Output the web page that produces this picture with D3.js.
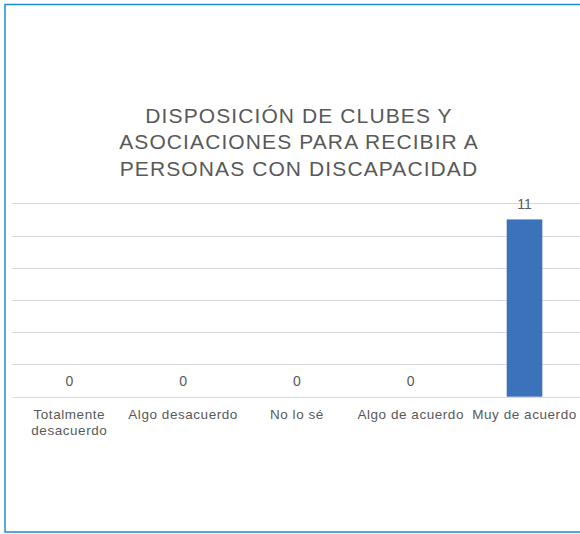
<!DOCTYPE html>
<html>
<head>
<meta charset="utf-8">
<script src="https://cdn.jsdelivr.net/npm/d3@7"></script>
<style>
  body { margin: 0; background: #fff; }
  text { font-family: "Liberation Sans", Arial, sans-serif; }
</style>
</head>
<body>
<svg id="chart" width="580" height="534"></svg>
<script>
// data
const categories = ['Totalmente desacuerdo', 'Algo desacuerdo', 'No lo sé', 'Algo de acuerdo', 'Muy de acuerdo']
const values = [0, 0, 0, 0, 11]
const yTicks = [0, 2, 4, 6, 8, 10, 12]
const titleLines = ['DISPOSICIÓN DE CLUBES Y', 'ASOCIACIONES PARA RECIBIR A', 'PERSONAS CON DISCAPACIDAD']

// layout
const PLOT = { left: 12.4, right: 581.4, top: 203.3, bottom: 396.7 }
const TEXT_COLOR = '#595959'
const GRID_COLOR = '#d9d9d9'
const BAR_COLOR = '#3b72b9'

const svg = d3.select('#chart')

// blue frame round the figure (right edge falls outside the picture)
svg.append('rect')
  .attr('x', 5).attr('y', 4.5)
  .attr('width', 620).attr('height', 527.5)
  .attr('fill', 'none')
  .attr('stroke', '#1f8ad2')
  .attr('stroke-width', 1.5)

const x = d3.scaleBand()
  .domain(categories)
  .range([PLOT.left, PLOT.right])
  .paddingInner(0.687)
  .paddingOuter(0.3435)

const y = d3.scaleLinear()
  .domain([0, d3.max(yTicks)])
  .range([PLOT.bottom, PLOT.top])

// title
svg.append('g')
  .attr('fill', TEXT_COLOR)
  .attr('font-size', 21)
  .attr('letter-spacing', '1.1px')
  .attr('text-anchor', 'middle')
  .selectAll('text')
  .data(titleLines)
  .join('text')
    .attr('x', 299)
    .attr('y', (d, i) => 122.5 + i * 26.8)
    .text(d => d)

// gridlines
svg.append('g')
  .selectAll('line')
  .data(yTicks)
  .join('line')
    .attr('x1', PLOT.left).attr('x2', PLOT.right)
    .attr('y1', d => Math.round(y(d)) + 0.5)
    .attr('y2', d => Math.round(y(d)) + 0.5)
    .attr('stroke', GRID_COLOR)
    .attr('stroke-width', 1)

// bars
svg.append('g')
  .selectAll('rect')
  .data(categories)
  .join('rect')
    .attr('x', d => x(d))
    .attr('width', x.bandwidth())
    .attr('y', (d, i) => y(values[i]))
    .attr('height', (d, i) => y(0) - y(values[i]))
    .attr('fill', BAR_COLOR)

// data labels
svg.append('g')
  .attr('fill', TEXT_COLOR)
  .attr('font-size', 14)
  .attr('text-anchor', 'middle')
  .selectAll('text')
  .data(categories)
  .join('text')
    .attr('x', d => x(d) + x.bandwidth() / 2)
    .attr('y', (d, i) => y(values[i]) - 10.6)
    .text((d, i) => values[i])

// category labels, wrapped like the spreadsheet does
const labels = svg.append('g')
  .attr('fill', TEXT_COLOR)
  .attr('font-size', 13.5)
  .attr('letter-spacing', '0.55px')
  .attr('text-anchor', 'middle')
  .selectAll('text')
  .data(categories)
  .join('text')
    .attr('x', d => x(d) + x.bandwidth() / 2)
    .attr('y', 419)

labels.each(function(d) {
  let el = d3.select(this)
  let cx = x(d) + x.bandwidth() / 2
  let words = d.split(' ')
  let lines = [], line = []
  el.text(d)
  if(this.getComputedTextLength() <= 120) {
    lines = [d]
  } else {
    words.forEach( (w) => {
      el.text(line.concat(w).join(' '))
      if(line.length && this.getComputedTextLength() > 120) {
        lines.push(line.join(' '))
        line = [w]
      } else {
        line.push(w)
      }
    })
    lines.push(line.join(' '))
  }
  el.text(null)
  lines.forEach( (l, i) => {
    el.append('tspan').attr('x', cx).attr('dy', i ? 16.2 : 0).text(l)
  })
})
</script>
</body>
</html>
